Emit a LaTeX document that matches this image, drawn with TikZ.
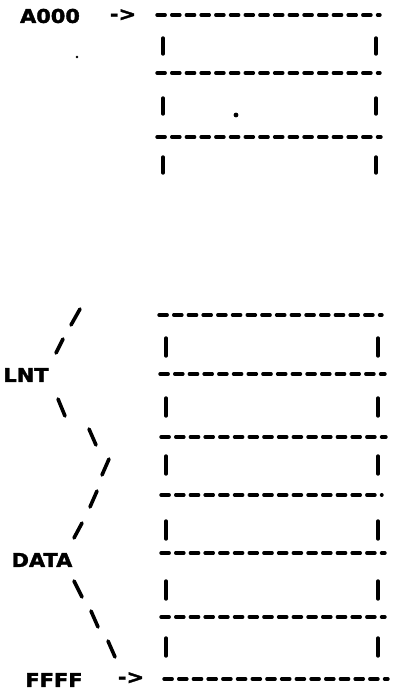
\documentclass[tikz,border=0pt]{standalone}
\usepackage{fontspec}
\newfontfamily\ttyfont{DejaVu Sans Bold}[FakeStretch=1.1,FakeBold=1.8]
\begin{document}
\begin{tikzpicture}[x=1pt,y=-1pt,
  lbl/.style={font=\ttyfont\fontsize{19}{19}\selectfont, inner sep=0pt, anchor=center},
  rule/.style={line width=3.4pt, line cap=round, dash pattern=on 8.2pt off 6.5pt},
  bar/.style={line width=3.4pt, line cap=round},
  slash/.style={line width=3.6pt, line cap=round}]
\useasboundingbox[fill=white] (0,0) rectangle (392,692);

% labels
\node[lbl] (a000) at (50,16) {A000};
\node[lbl] (arr1) at (123,15) {->};
\node[lbl] (lnt) at (26,375) {LNT};
\node[lbl] (data) at (42,560) {DATA};
\node[lbl] (ffff) at (54,680) {FFFF};
\node[lbl] (arr2) at (131,678) {->};

% top block: horizontal dashed rules
\foreach \y/\xa/\xb in {15/157/380, 73/157/380, 137/157/381}
  \draw[rule] (\xa,\y) -- (\xb,\y);
% top block: bars
\foreach \y in {46,106,165}{
  \draw[bar] (163,\y-8) -- (163,\y+8);
  \draw[bar] (376,\y-8) -- (376,\y+8);
}
% dots
\fill (236,115) circle (2.4pt);
\fill (77,57) circle (1.3pt);

% lower block: rules
\foreach \y/\xa/\xb in {315/159/382, 374/160/385, 437/161/386, 495/161/382, 553/161/385, 617/161/385, 679/164/388}
  \draw[rule] (\xa,\y) -- (\xb,\y);
% lower block: bars
\foreach \y in {347,407,465,530,590,647}{
  \draw[bar] (166,\y-9) -- (166,\y+9);
  \draw[bar] (378,\y-9) -- (378,\y+9);
}

% brace-like slashes
\draw[slash] (80,309) -- (71,325);
\draw[slash] (63,339) -- (56,353);
\draw[slash] (58,399) -- (65,416);
\draw[slash] (89,429) -- (96,445);
\draw[slash] (109,459) -- (102,475);
\draw[slash] (97,491) -- (90,507);
\draw[slash] (82,523) -- (74,538);
\draw[slash] (74,581) -- (82,597);
\draw[slash] (91,611) -- (98,627);
\draw[slash] (108,641) -- (115,657);
\end{tikzpicture}
\end{document}
